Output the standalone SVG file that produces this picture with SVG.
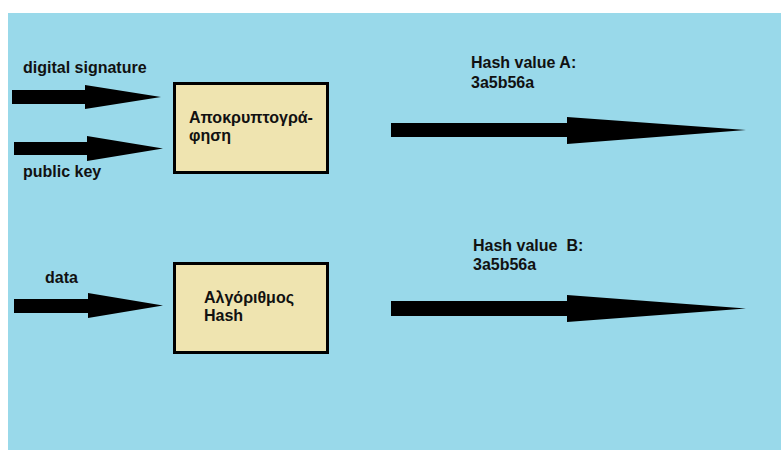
<svg xmlns="http://www.w3.org/2000/svg" width="781" height="450" viewBox="0 0 781 450">
  <style>
    .lbl { font-family: "Liberation Sans", Arial, sans-serif; font-size: 16px; font-weight: bold; fill: #111; white-space: pre; }
    .box { fill: #efe4b0; stroke: #000; stroke-width: 3; }
    .arrow { fill: #000; }
  </style>
  <!-- canvas -->
  <rect x="0" y="0" width="781" height="450" fill="#ffffff"/>
  <rect x="8" y="13" width="773" height="437" fill="#99d9ea"/>

  <!-- connectors: block arrows -->
  <g id="connectors">
    <polygon class="arrow" points="12,90 85,90 85,85 161,97 85,109 85,104 12,104"/>
    <polygon class="arrow" points="14,142 87,142 87,136 163,148.5 87,161 87,155 14,155"/>
    <polygon class="arrow" points="14,299 88,299 88,293 163,305.5 88,318 88,313 14,313"/>
    <polygon class="arrow" points="391,123 567,123 567,117 746,130 567,144 567,137 391,137"/>
    <polygon class="arrow" points="391,301 567,301 567,295 746,308.5 567,322 567,316 391,316"/>
  </g>

  <!-- input labels -->
  <g id="inputs">
    <text class="lbl" x="23" y="73">digital signature</text>
    <text class="lbl" x="23" y="177">public key</text>
    <text class="lbl" x="45" y="283">data</text>
  </g>

  <!-- decryption step -->
  <g id="decrypt">
    <rect class="box" x="174.5" y="83.5" width="153" height="89"/>
    <text class="lbl" x="189" y="123">Αποκρυπτογρά-</text>
    <text class="lbl" x="189" y="141">φηση</text>
  </g>

  <!-- hashing step -->
  <g id="hash">
    <rect class="box" x="174.5" y="263.5" width="153" height="89"/>
    <text class="lbl" x="204" y="303">Αλγόριθμος</text>
    <text class="lbl" x="204" y="321">Hash</text>
  </g>

  <!-- resulting values -->
  <g id="valueA">
    <text class="lbl" x="471" y="68">Hash value A:</text>
    <text class="lbl" x="471" y="88">3a5b56a</text>
  </g>
  <g id="valueB">
    <text class="lbl" x="473" y="251">Hash value  B:</text>
    <text class="lbl" x="473" y="270">3a5b56a</text>
  </g>
</svg>
